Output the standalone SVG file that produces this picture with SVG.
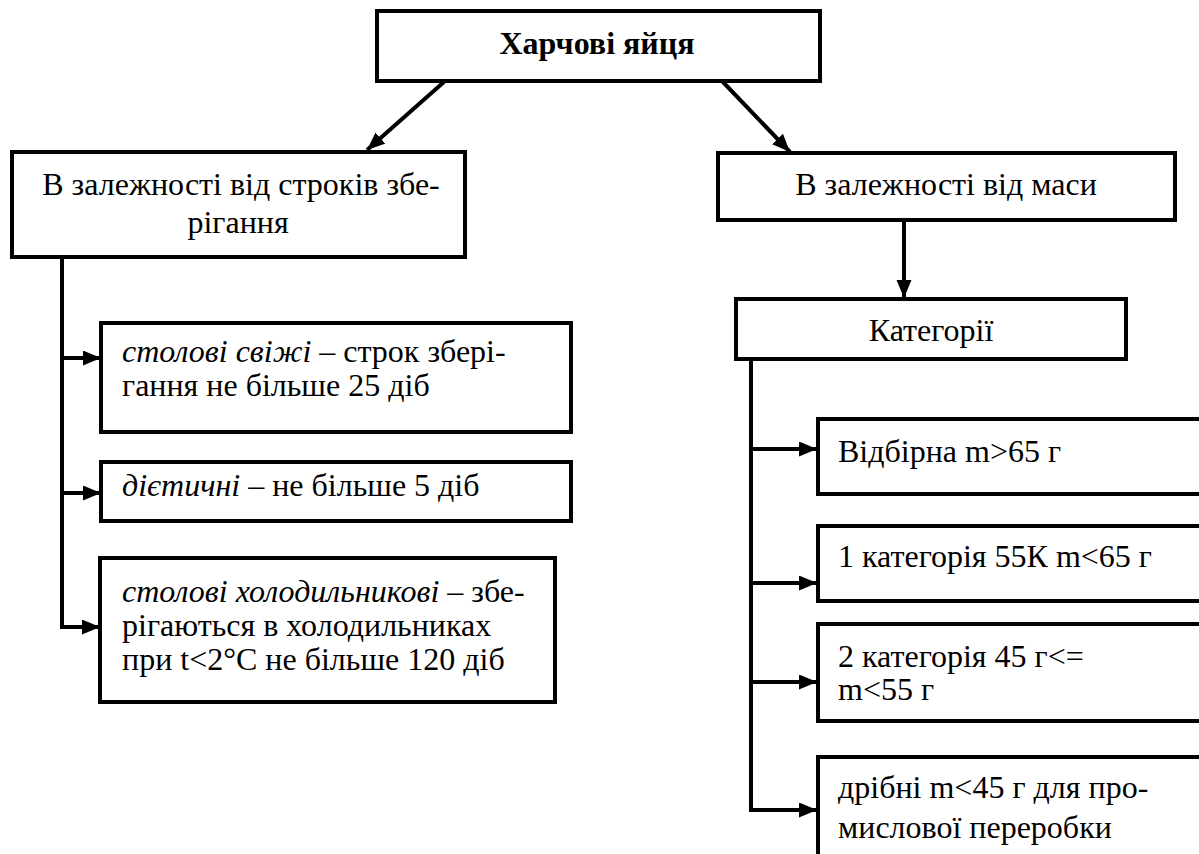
<svg xmlns="http://www.w3.org/2000/svg" width="1199" height="854" viewBox="0 0 1199 854">
<defs>
<marker id="ah" markerUnits="userSpaceOnUse" markerWidth="20" markerHeight="18" refX="18" refY="7.5" orient="auto">
<path d="M0,0 L18,7.5 L0,15 z" fill="#000"/>
</marker>
<style>
.box{fill:#fff;stroke:#000;stroke-width:4}
.t{font-family:"Liberation Serif","Times New Roman",serif;font-size:32px;fill:#000}
.b{font-weight:bold}
.i{font-style:italic}
.c{text-anchor:middle}
.ln{fill:none;stroke:#000;stroke-width:4}
</style>
</defs>
<rect width="1199" height="854" fill="#fff"/>
<g id="connectors">
<line class="ln" x1="445" y1="81" x2="367" y2="150" marker-end="url(#ah)"/>
<line class="ln" x1="722" y1="81" x2="790" y2="152" marker-end="url(#ah)"/>
<line class="ln" x1="904" y1="220" x2="904" y2="298" marker-end="url(#ah)"/>
<polyline class="ln" points="62,257 62,627 100,627" marker-end="url(#ah)"/>
<line class="ln" x1="62" y1="358" x2="101" y2="358" marker-end="url(#ah)"/>
<line class="ln" x1="62" y1="493" x2="101" y2="493" marker-end="url(#ah)"/>
<polyline class="ln" points="751,359 751,810 817,810" marker-end="url(#ah)"/>
<line class="ln" x1="751" y1="449" x2="817" y2="449" marker-end="url(#ah)"/>
<line class="ln" x1="751" y1="583" x2="817" y2="583" marker-end="url(#ah)"/>
<line class="ln" x1="751" y1="682" x2="817" y2="682" marker-end="url(#ah)"/>
</g>
<g id="root">
<rect class="box" x="377" y="11" width="443" height="70"/>
<text class="t b c" x="597" y="54">Харчові яйця</text>
</g>
<g id="storage">
<rect class="box" x="12" y="152" width="453" height="105"/>
<text class="t c" x="241" y="195">В залежності від строків збе-</text>
<text class="t c" x="238" y="233">рігання</text>
</g>
<g id="mass">
<rect class="box" x="718" y="153" width="457" height="67"/>
<text class="t c" x="946" y="195">В залежності від маси</text>
</g>
<g id="categories">
<rect class="box" x="736" y="299" width="390" height="60"/>
<text class="t c" x="931" y="341">Категорії</text>
</g>
<g id="fresh">
<rect class="box" x="101" y="323" width="470" height="109"/>
<text class="t" x="122" y="362"><tspan class="i">столові свіжі</tspan> – строк збері-</text>
<text class="t" x="122" y="396">гання не більше 25 діб</text>
</g>
<g id="diet">
<rect class="box" x="101" y="462" width="470" height="59"/>
<text class="t" x="122" y="496"><tspan class="i">дієтичні</tspan> – не більше 5 діб</text>
</g>
<g id="fridge">
<rect class="box" x="100" y="558" width="455" height="144"/>
<text class="t" x="122" y="602"><tspan class="i">столові холодильникові</tspan> – збе-</text>
<text class="t" x="122" y="636">рігаються в холодильниках</text>
<text class="t" x="122" y="670">при t&lt;2°C не більше 120 діб</text>
</g>
<g id="select">
<rect class="box" x="818" y="419" width="400" height="75"/>
<text class="t" x="838" y="462">Відбірна m&gt;65 г</text>
</g>
<g id="cat1">
<rect class="box" x="818" y="526" width="400" height="75"/>
<text class="t" x="838" y="567">1 категорія 55К m&lt;65 г</text>
</g>
<g id="cat2">
<rect class="box" x="818" y="624" width="400" height="97"/>
<text class="t" x="838" y="667">2 категорія 45 г&lt;=</text>
<text class="t" x="838" y="700">m&lt;55 г</text>
</g>
<g id="small">
<rect class="box" x="818" y="757" width="400" height="120"/>
<text class="t" x="838" y="798">дрібні m&lt;45 г для про-</text>
<text class="t" x="838" y="838">мислової переробки</text>
</g>
</svg>
